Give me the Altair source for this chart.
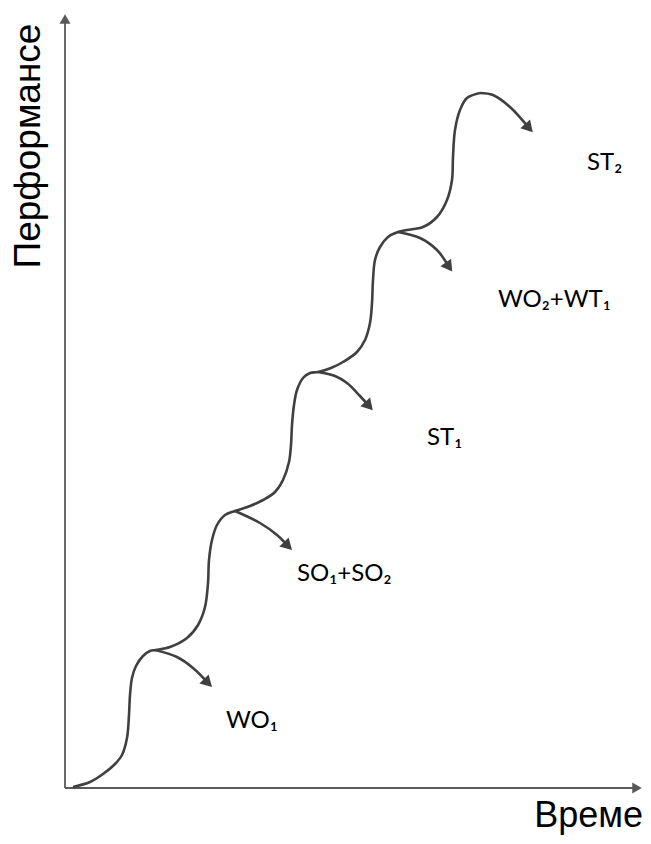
import altair as alt
import pandas as pd
import numpy as np

# Main staircase curve (time, performance)
main_t = [8, 25, 38, 50, 57, 62, 64, 65, 67, 71, 78, 85, 91,
          105, 122, 133, 140, 143, 144, 147, 152, 160, 170,
          185, 198, 210, 218, 224, 226, 227, 229, 232, 238, 245, 253,
          266, 278, 292, 300, 305, 307, 308, 310, 315, 323, 333,
          342, 358, 372, 382, 387, 388, 390, 395, 402, 415]
main_p = [1, 6, 14, 24, 33, 50, 73, 93, 110, 122, 132, 137, 138,
          141, 150, 163, 181, 205, 228, 248, 263, 273, 277,
          282, 288, 296, 308, 326, 343, 363, 383, 398, 410, 415, 416,
          420, 426, 436, 448, 465, 485, 508, 528, 541, 551, 556,
          558, 561, 571, 588, 608, 631, 658, 678, 690, 695]

# Branches (drop-offs) leaving each step
branch_names = ["b1", "b2", "b3", "b4", "b5"]
branch_t = [[90, 112, 128, 143],
            [170, 195, 212, 223],
            [253, 270, 282, 295, 304],
            [333, 355, 372, 384],
            [415, 428, 445, 464]]
branch_p = [[138, 131, 120, 105],
            [277, 265, 253, 242],
            [416, 412, 405, 392, 382],
            [556, 550, 538, 521],
            [695, 693, 681, 660]]

# Labels
label_text = ["WO₁", "SO₁+SO₂", "ST₁", "WO₂+WT₁", "ST₂"]
label_t = [161, 232, 362, 433, 522]
label_p = [60, 207, 343, 481, 618]

# Axis extents
x_axis_end = 572
y_axis_end = 769

rows = []
for i, (t, p) in enumerate(zip(main_t, main_p)):
    rows.append({"series": "main", "order": i, "t": t, "p": p})
heads = []
for name, bt, bp in zip(branch_names, branch_t, branch_p):
    for i, (t, p) in enumerate(zip(bt, bp)):
        rows.append({"series": name, "order": i, "t": t, "p": p})
    ang = np.degrees(np.arctan2(bt[-1] - bt[-2], bp[-1] - bp[-2])) % 360
    heads.append({"t": bt[-1], "p": bp[-1], "angle": float(ang)})
curve = pd.DataFrame(rows)
heads = pd.DataFrame(heads)
labels = pd.DataFrame({"t": label_t, "p": label_p, "text": label_text})

xs = alt.Scale(domain=[-57, 578])
ys = alt.Scale(domain=[-48, 780])
X = lambda f="t": alt.X(f, type="quantitative", scale=xs, axis=None)
Y = lambda f="p": alt.Y(f, type="quantitative", scale=ys, axis=None)

axis_col = "#595959"
line_col = "#404040"

axes_df = pd.DataFrame({"t": [0, 0], "p": [0, 0], "t2": [x_axis_end, 0], "p2": [0, y_axis_end]})
axes = alt.Chart(axes_df).mark_rule(color=axis_col, strokeWidth=1.8).encode(
    x=X(), y=Y(), x2="t2:Q", y2="p2:Q")
axis_heads_df = pd.DataFrame({"t": [x_axis_end, 0], "p": [0, y_axis_end], "angle": [90.0, 0.0]})
axis_heads = alt.Chart(axis_heads_df).mark_point(
    shape="triangle-up", filled=True, color=axis_col, size=120, opacity=1, strokeWidth=0
).encode(x=X(), y=Y(), angle=alt.Angle("angle:Q", scale=None))

lines = alt.Chart(curve).mark_line(
    color=line_col, strokeWidth=2.6, interpolate="catmull-rom"
).encode(x=X(), y=Y(), detail="series:N", order="order:Q")

arrow_heads = alt.Chart(heads).mark_point(
    shape="triangle-up", filled=True, color=line_col, size=170, opacity=1, strokeWidth=0
).encode(x=X(), y=Y(), angle=alt.Angle("angle:Q", scale=None))

text = alt.Chart(labels).mark_text(
    font="Lato", fontSize=24, align="left", baseline="alphabetic", color="black"
).encode(x=X(), y=Y(), text="text:N")

ytitle_df = pd.DataFrame({"t": [-25], "p": [642], "text": ["Перформансе"]})
ytitle = alt.Chart(ytitle_df).mark_text(
    font="Liberation Sans", fontSize=37, angle=270, align="center",
    baseline="alphabetic", color="black"
).encode(x=X(), y=Y(), text="text:N")

xtitle_df = pd.DataFrame({"t": [578], "p": [-39], "text": ["Време"]})
xtitle = alt.Chart(xtitle_df).mark_text(
    font="Liberation Sans", fontSize=36, align="right",
    baseline="alphabetic", color="black"
).encode(x=X(), y=Y(), text="text:N")

chart = alt.layer(axes, axis_heads, lines, arrow_heads, text, ytitle, xtitle).properties(
    width=635, height=828, autosize=alt.AutoSizeParams(type="none"), padding=0,
    background="white"
).configure_view(stroke=None)

chart.save("out.html", embed_options={"renderer": "svg", "actions": False})
